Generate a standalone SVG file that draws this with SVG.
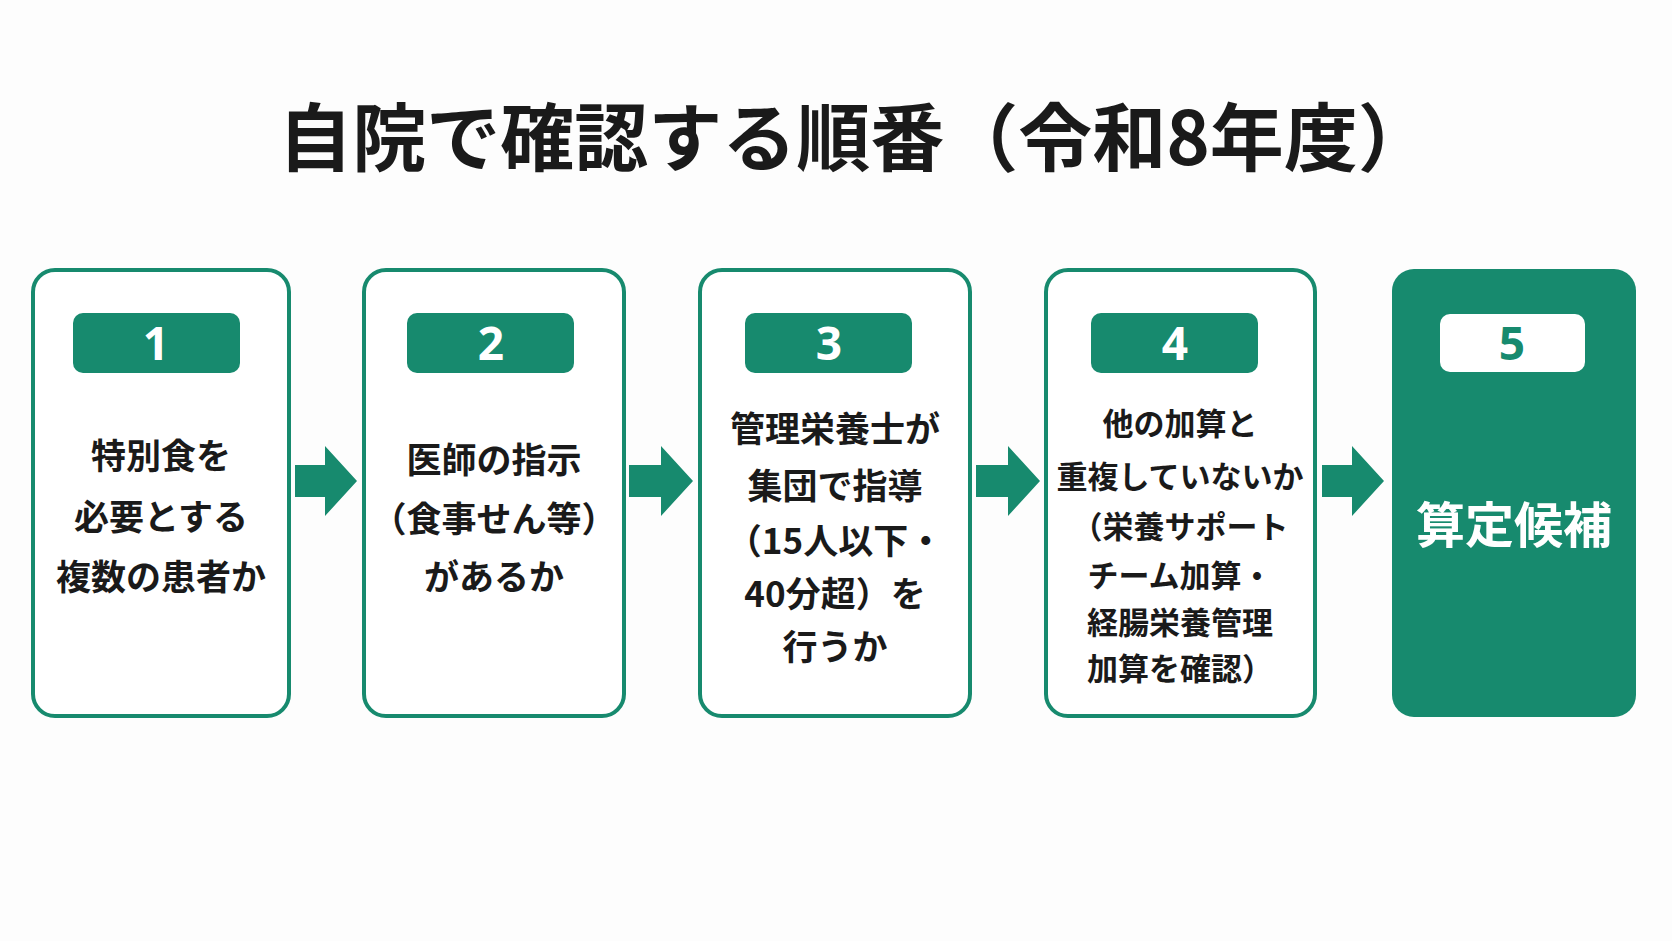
<svg xmlns="http://www.w3.org/2000/svg" width="1672" height="941" viewBox="0 0 1672 941">
<style>
.box{fill:#fff;stroke:#178a6e;stroke-width:4}
.badge{fill:#178a6e}
.num{fill:#fff;font:700 46px "Noto Sans","Noto Sans CJK JP",sans-serif;text-anchor:middle}
.t{fill:#1a1a1a;font:700 35px "Noto Sans CJK JP",sans-serif;text-anchor:middle}
.s{font-size:31px}
.arr{fill:#178a6e}
</style>
<rect width="1672" height="941" fill="#fdfdfd"/>
<text x="855" y="165" style="fill:#1a1a1a;font:700 74px 'Noto Sans CJK JP',sans-serif;text-anchor:middle">自院で確認する順番（令和8年度）</text>
<g id="connectors">
<polygon class="arr" points="295,465 325,465 325,446 357,481 325,516 325,497 295,497"/>
<polygon class="arr" points="629,465 661,465 661,446 693,481 661,516 661,497 629,497"/>
<polygon class="arr" points="976,465 1008,465 1008,446 1040,481 1008,516 1008,497 976,497"/>
<polygon class="arr" points="1322,465 1352,465 1352,446 1384,481 1352,516 1352,497 1322,497"/>
</g>
<g id="n1">
<rect class="box" x="33" y="270" width="256" height="446" rx="22"/>
<rect class="badge" x="73" y="313" width="167" height="60" rx="10"/>
<text class="num" x="156" y="360">1</text>
<text class="t" x="161" y="469">特別食を</text>
<text class="t" x="161" y="530">必要とする</text>
<text class="t" x="161" y="590">複数の患者か</text>
</g>
<g id="n2">
<rect class="box" x="364" y="270" width="260" height="446" rx="22"/>
<rect class="badge" x="407" y="313" width="167" height="60" rx="10"/>
<text class="num" x="491" y="360">2</text>
<text class="t" x="494" y="473">医師の指示</text>
<text class="t" x="494" y="532">（食事せん等）</text>
<text class="t" x="494" y="590">があるか</text>
</g>
<g id="n3">
<rect class="box" x="700" y="270" width="270" height="446" rx="22"/>
<rect class="badge" x="745" y="313" width="167" height="60" rx="10"/>
<text class="num" x="829" y="360">3</text>
<text class="t" x="835" y="442">管理栄養士が</text>
<text class="t" x="835" y="499">集団で指導</text>
<text class="t" x="835" y="554">（15人以下・</text>
<text class="t" x="835" y="607">40分超）を</text>
<text class="t" x="835" y="660">行うか</text>
</g>
<g id="n4">
<rect class="box" x="1046" y="270" width="269" height="446" rx="22"/>
<rect class="badge" x="1091" y="313" width="167" height="60" rx="10"/>
<text class="num" x="1175" y="360">4</text>
<text class="t s" x="1180" y="435">他の加算と</text>
<text class="t s" x="1180" y="488">重複していないか</text>
<text class="t s" x="1180" y="538">（栄養サポート</text>
<text class="t s" x="1180" y="587">チーム加算・</text>
<text class="t s" x="1180" y="634">経腸栄養管理</text>
<text class="t s" x="1180" y="680">加算を確認）</text>
</g>
<g id="n5">
<rect x="1392" y="269" width="244" height="448" rx="22" fill="#178a6e"/>
<rect x="1440" y="314" width="145" height="58" rx="10" fill="#fff"/>
<text class="num" x="1512" y="360" style="fill:#178a6e">5</text>
<text x="1514" y="543" style="fill:#fff;font:700 49px 'Noto Sans CJK JP',sans-serif;text-anchor:middle">算定候補</text>
</g>
</svg>
